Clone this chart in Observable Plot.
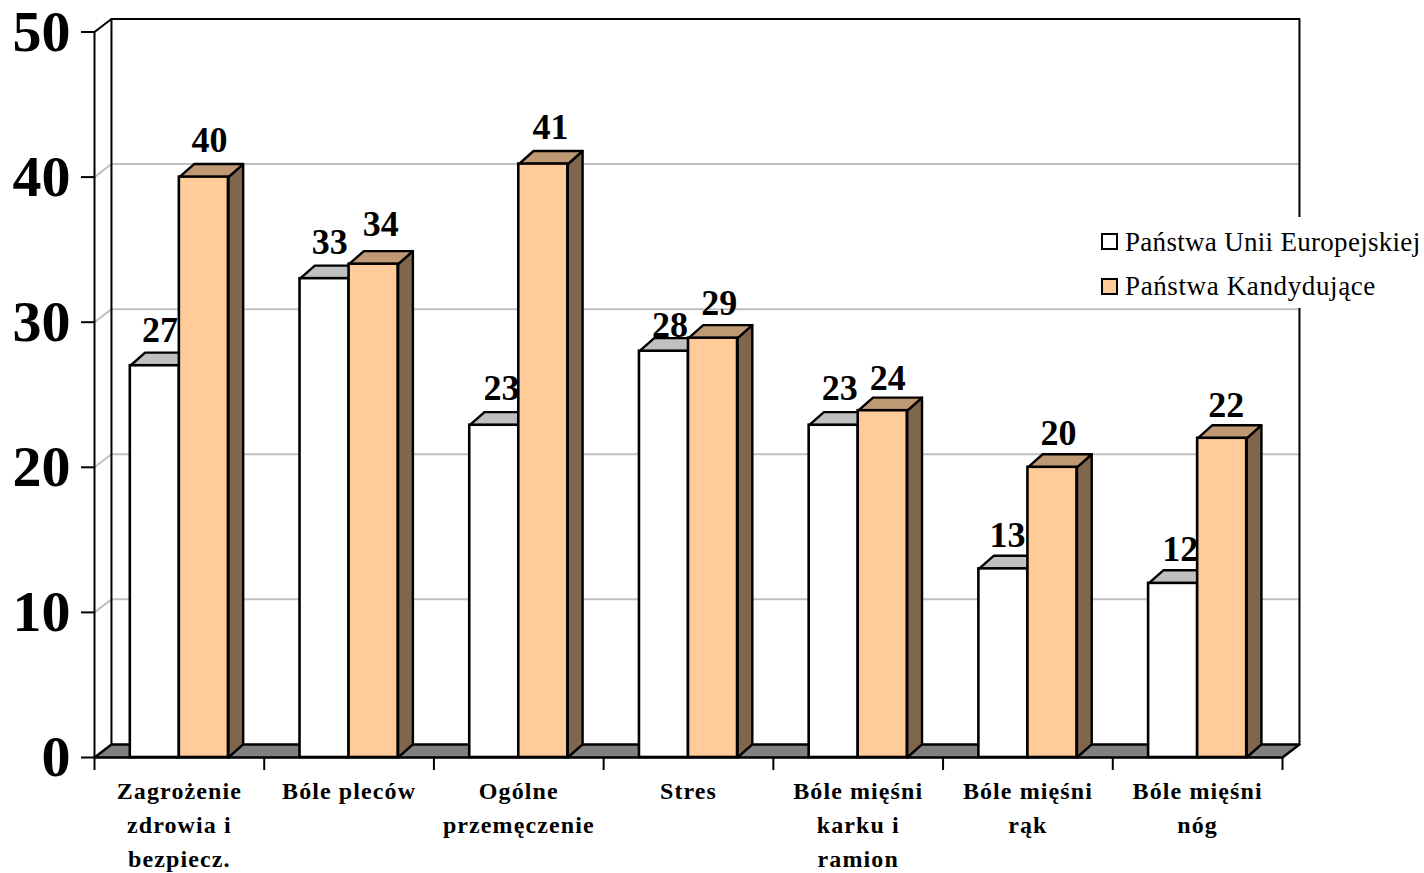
<!DOCTYPE html>
<html lang="pl"><head><meta charset="utf-8">
<script src="https://cdn.jsdelivr.net/npm/d3@7"></script>
<script src="https://cdn.jsdelivr.net/npm/@observablehq/plot@0.6"></script>
<style>
html,body{margin:0;padding:0;background:#fff;overflow:hidden}
#wrap{position:relative;width:1424px;height:873px}
.cat text{letter-spacing:1.1px}
#legend{position:absolute;left:1093px;top:217px;width:331px;height:91px;background:#fff;font-family:"Liberation Serif",serif;font-size:27px;color:#000}
#legend div{position:absolute;left:32px;white-space:nowrap;line-height:30px}
#legend i{position:absolute;left:8px;width:13px;height:13px;border:2px solid #000;display:block}
</style></head><body><div id="wrap"></div>
<script>
const categories = ["Zagrożenie\nzdrowia i\nbezpiecz.", "Bóle pleców", "Ogólne\nprzemęczenie", "Stres", "Bóle mięśni\nkarku i\nramion", "Bóle mięśni\nrąk", "Bóle mięśni\nnóg"];
const seriesEU = [27, 33, 22.9, 28, 22.9, 13, 12];
const seriesCand = [40, 34, 40.9, 28.9, 23.9, 20, 22];
const seriesNames = ["Państwa Unii Europejskiej", "Państwa Kandydujące"];
const yTicks = [0, 10, 20, 30, 40, 50];
const gridValues = [10, 20, 30, 40];
const colors = {eu:"#ffffff", euTop:"#c0c0c0", cand:"#ffcc99", candTop:"#bf9973", candSide:"#7f664c", floor:"#808080", grid:"#c0c0c0"};
const nudgeEU = [[-2,0],[-2,-1],[0,-1.5],[-1,10],[-1,-1.5],[-3,2],[0,2]];
const nudgeCand = [[-1.5,-1],[0,-4],[0,-1.5],[-1,0.5],[-2,3.5],[-1,2],[-3,3]];
const legendSpacing = [0.3, 0.62];

const serif = "Liberation Serif";
const n = categories.length, yMax = 50;
const wallDx = 0.1, wallDy = 0.9, barDx = 0.087, barDy = 0.9, barW = 0.289;
const idx = d3.range(n);

const boxes = (vals, off, nudge) => idx.map(i => ({i, v: vals[i], x1: i + .5 + off, x2: i + .5 + off + barW, nx: nudge[i][0], ny: nudge[i][1]}));
const eu = boxes(seriesEU, -barW, nudgeEU), cand = boxes(seriesCand, 0, nudgeCand);
const poly = (id, pts) => pts.map(([x, y]) => ({id, x, y}));
const topFace = bs => bs.flatMap(b => poly(b.i, [[b.x1,b.v],[b.x2,b.v],[b.x2+barDx,b.v+barDy],[b.x1+barDx,b.v+barDy]]));
const sideFace = bs => bs.flatMap(b => poly(b.i, [[b.x2,0],[b.x2,b.v],[b.x2+barDx,b.v+barDy],[b.x2+barDx,barDy]]));

const face = (rows, fill) => Plot.line(rows, {x:"x", y:"y", z:"id", fill, stroke:"#000", strokeWidth:2.4, curve:"linear-closed"});
const front = (bs, fill) => Plot.rectY(bs, {x1:"x1", x2:"x2", y1:0, y2:"v", fill, stroke:"#000", strokeWidth:2.6});
const label = (bs) => bs.map(b => Plot.text([b], {x:d => (d.x1+d.x2)/2 + 0.042, y:"v", text:d => String(Math.round(d.v)), dx:b.nx, dy:-24 + b.ny, lineAnchor:"bottom", fontFamily:serif, fontWeight:"bold", fontSize:36, fill:"#000"}));

const wallRows = poly("w", [[wallDx,wallDy],[wallDx,yMax+wallDy],[n+wallDx,yMax+wallDy],[n+wallDx,wallDy]]);
const floorRows = poly("f", [[0,0],[n,0],[n+wallDx,wallDy],[wallDx,wallDy]]);
const gridRows = gridValues.flatMap(v => poly(v, [[0,v],[wallDx,v+wallDy],[n+wallDx,v+wallDy]]));

const plot = Plot.plot({
  width:1424, height:873,
  marginLeft:94, marginRight:142, marginTop:31.5, marginBottom:116,
  x:{domain:[0,n]}, y:{domain:[0,yMax]},
  marks:[
    Plot.line(gridRows, {x:"x", y:"y", z:"id", stroke:colors.grid, strokeWidth:2}),
    Plot.line(wallRows, {x:"x", y:"y", z:"id", stroke:"#000", strokeWidth:2}),
    Plot.line(poly("c",[[0,yMax],[wallDx,yMax+wallDy]]), {x:"x", y:"y", stroke:"#000", strokeWidth:2}),
    face(floorRows, colors.floor),
    Plot.ruleX([0], {y1:0, y2:yMax, stroke:"#000", strokeWidth:2}),
    Plot.axisY({ticks:yTicks, tickSize:13, tickPadding:11, label:null, fontFamily:serif, fontWeight:"bold", fontSize:58, fill:"#000", stroke:"#000", strokeWidth:2, tickFormat:d => String(d)}),
    Plot.axisX({ticks:d3.range(n+1), tickSize:13, tickFormat:null, label:null, stroke:"#000", strokeWidth:2, fill:"none"}),
    face(topFace(eu), colors.euTop),
    front(eu, colors.eu),
    label(eu),
    face(sideFace(cand), colors.candSide),
    face(topFace(cand), colors.candTop),
    front(cand, colors.cand),
    label(cand),
    Plot.text(categories, {x:(d,i) => i + .5, y:0, text:d => d, dy:17, lineAnchor:"top", lineHeight:1.42, fontFamily:serif, fontWeight:"bold", fontSize:24, fill:"#000", className:"cat"})
  ]
});
const wrap = document.getElementById("wrap");
wrap.appendChild(plot);
const lg = document.createElement("div"); lg.id = "legend";
seriesNames.forEach((name, k) => {
  const sw = document.createElement("i");
  sw.style.top = (16 + k*44.5) + "px";
  sw.style.background = k ? colors.cand : colors.eu;
  const t = document.createElement("div");
  t.style.top = (10 + k*44) + "px";
  t.style.letterSpacing = legendSpacing[k] + "px";
  t.textContent = name;
  lg.append(sw, t);
});
wrap.appendChild(lg);
</script></body></html>
